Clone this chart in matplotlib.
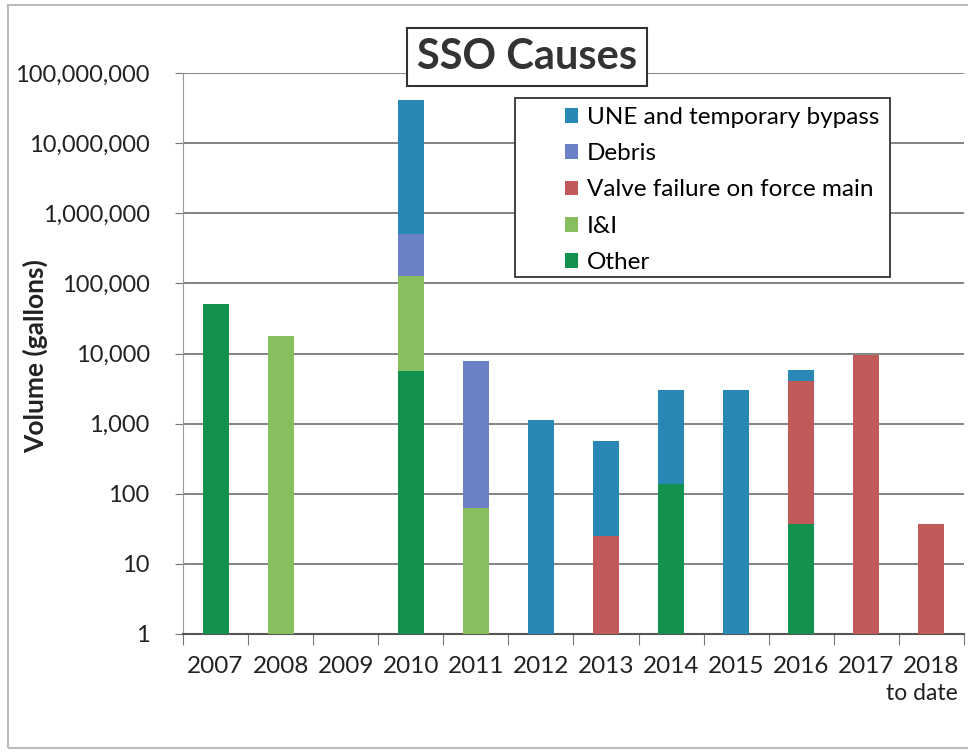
import numpy as np
import matplotlib.pyplot as plt
from matplotlib.patches import Rectangle
from matplotlib.ticker import FuncFormatter, NullLocator

plt.rcParams['font.family'] = ['Lato', 'DejaVu Sans']

years = ['2007', '2008', '2009', '2010', '2011', '2012',
         '2013', '2014', '2015', '2016', '2017', '2018']

# gallons per cause, stacked bottom -> top
other = [50000, 0, 0, 5600, 0, 0, 0, 140, 0, 37, 0, 0]
i_and_i = [0, 18000, 0, 122000, 63, 0, 0, 0, 0, 0, 0, 0]
valve = [0, 0, 0, 0, 0, 0, 25, 0, 0, 4000, 9500, 37]
debris = [0, 0, 0, 380000, 7700, 0, 0, 0, 0, 0, 0, 0]
une = [0, 0, 0, 40500000, 0, 1130, 545, 2860, 3000, 1800, 0, 0]

series = [
    ('Other', other, '#12914f'),
    ('I&I', i_and_i, '#87bf5e'),
    ('Valve failure on force main', valve, '#c25a5a'),
    ('Debris', debris, '#6b80c6'),
    ('UNE and temporary bypass', une, '#2a88b6'),
]

fig = plt.figure(figsize=(9.68, 7.56), dpi=100)
ax = fig.add_axes([183/968, 1 - 634/756, (964 - 183)/968, (634 - 73)/756])

x = np.arange(len(years))
bottom = np.zeros(len(years))
handles = {}
for name, vals, col in series:
    vals = np.array(vals, dtype=float)
    b = ax.bar(x, vals, 0.4, bottom=bottom, color=col, zorder=3, label=name)
    handles[name] = b
    bottom = bottom + vals

ax.set_yscale('log')
ax.set_ylim(1, 1e8)
ax.set_xlim(-0.5, len(years) - 0.5)
ax.set_yticks([10**k for k in range(9)])
ax.yaxis.set_minor_locator(NullLocator())
ax.yaxis.set_major_formatter(FuncFormatter(lambda v, p: f'{v:,.0f}'))
ax.tick_params(axis='y', labelsize=17, length=6, color='#777777', pad=18,
               labelcolor='#222222')
ax.grid(axis='y', color='#7a7a7a', linewidth=1.3, zorder=0)

# category boundary ticks on the x axis
ax.set_xticks(np.arange(len(years) + 1) - 0.5)
ax.set_xticklabels([])
ax.tick_params(axis='x', length=8, color='#777777')
for i, yr in enumerate(years):
    ax.text(i, -0.04, yr, transform=ax.get_xaxis_transform(),
            ha='center', va='top', fontsize=17.5, color='#222222')
ax.text(len(years) - 1 - 0.14, -0.088, 'to date', transform=ax.get_xaxis_transform(),
        ha='center', va='top', fontsize=16.5, color='#222222')

for s in ['top', 'right']:
    ax.spines[s].set_visible(False)
ax.spines['left'].set_color('#999999')
ax.spines['bottom'].set_color('#555555')
ax.spines['bottom'].set_linewidth(1.5)

fig.text(35/968, 1 - 356/756, 'Volume (gallons)', rotation=90, ha='center', va='center',
         fontsize=19, fontweight='bold', color='#222222')

fig.text(527/968, 1 - 57/756, 'SSO Causes', ha='center', va='center', fontsize=30,
         fontweight='bold', color='#333333',
         bbox=dict(boxstyle='square,pad=0.25', facecolor='white', edgecolor='#333333', linewidth=1.5))

# legend box (Excel style: wide left margin)
fig.patches.append(Rectangle((515/968, 1 - 277/756), (890 - 515)/968, (277 - 98)/756,
                             transform=fig.transFigure, facecolor='white',
                             edgecolor='#333333', linewidth=1.3, zorder=9))
order = ['UNE and temporary bypass', 'Debris', 'Valve failure on force main', 'I&I', 'Other']
leg = fig.legend([handles[n] for n in order], order, loc='upper left',
                 bbox_to_anchor=(560/968, 1 - 102/756), fontsize=17.5, frameon=False,
                 handlelength=0.55, handleheight=0.55, handletextpad=0.35,
                 labelspacing=0.63, borderpad=0.2, borderaxespad=0)
leg.set_zorder(10)

fig.patches.append(Rectangle((8/968, 8/756), 1.0, 1 - 13/756, transform=fig.transFigure,
                             fill=False, edgecolor='#bbbbbb', linewidth=1.5))

fig.savefig('out.png', dpi=100)
